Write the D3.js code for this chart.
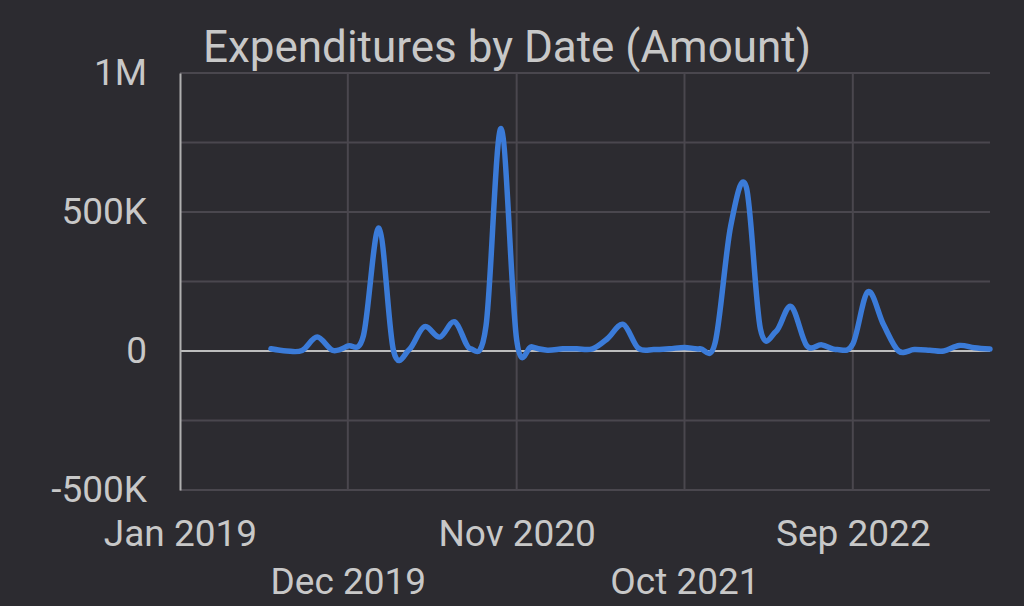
<!DOCTYPE html>
<html>
<head>
<meta charset="utf-8">
<script src="https://cdn.jsdelivr.net/npm/d3@7"></script>
<style>
  html, body { margin: 0; padding: 0; background: #2c2b30; }
  svg { display: block; }
  text { font-family: Roboto, "Noto Sans", sans-serif; }
</style>
</head>
<body>
<div id="chart"></div>
<script>
// monthly totals, Jul 2019 .. Jun 2023
var months = [
  '2019-07', '2019-08', '2019-09', '2019-10', '2019-11', '2019-12',
  '2020-01', '2020-02', '2020-03', '2020-04', '2020-05', '2020-06',
  '2020-07', '2020-08', '2020-09', '2020-10', '2020-11', '2020-12',
  '2021-01', '2021-02', '2021-03', '2021-04', '2021-05', '2021-06',
  '2021-07', '2021-08', '2021-09', '2021-10', '2021-11', '2021-12',
  '2022-01', '2022-02', '2022-03', '2022-04', '2022-05', '2022-06',
  '2022-07', '2022-08', '2022-09', '2022-10', '2022-11', '2022-12',
  '2023-01', '2023-02', '2023-03', '2023-04', '2023-05', '2023-06'
];
var amounts = [
  8000, 0, 2000, 50000, 2000, 18000,
  55000, 442000, 0, 5000, 87000, 50000,
  105000, 8000, 90000, 800000, 40000, 15000,
  3000, 8000, 8000, 8000, 45000, 96000,
  10000, 5000, 8000, 13000, 8000, 30000,
  450000, 590000, 80000, 70000, 160000, 20000,
  22000, 5000, 25000, 213000, 95000, 0,
  5000, 3000, 0, 20000, 12000, 7000
];

var xTicks = ['2019-01', '2019-12', '2020-11', '2021-10', '2022-09'];
var xTickLabels = ['Jan 2019', 'Dec 2019', 'Nov 2020', 'Oct 2021', 'Sep 2022'];
var yTicks = [-500000, 0, 500000, 1000000];
var yTickLabels = ['-500K', '0', '500K', '1M'];
var yGrid = [-500000, -250000, 250000, 500000, 750000, 1000000];

var chartTitle = 'Expenditures by Date (Amount)';

var width = 1024;
var height = 606;
// plot box (window.top is read-only, so no "top" here)
var plotLeft = 180, plotRight = 990, plotTop = 73, plotBottom = 490;

var parseMonth = d3.timeParse('%Y-%m');

var data = months.map(function (m, i) {
  return { date: parseMonth(m), value: amounts[i] };
});

var x = d3.scaleTime()
  .domain([parseMonth('2019-01'), parseMonth('2023-06')])
  .range([plotLeft, plotRight]);

var y = d3.scaleLinear()
  .domain([-500000, 1000000])
  .range([plotBottom, plotTop]);

var svg = d3.select('#chart')
  .append('svg')
  .attr('width', width)
  .attr('height', height);

svg.append('rect')
  .attr('width', width)
  .attr('height', height)
  .attr('fill', '#2c2b30');

// horizontal grid
svg.append('g')
  .selectAll('line')
  .data(yGrid)
  .enter().append('line')
  .attr('x1', plotLeft)
  .attr('x2', plotRight)
  .attr('y1', function (d) { return y(d); })
  .attr('y2', function (d) { return y(d); })
  .attr('stroke', '#4a474e')
  .attr('stroke-width', 2);

// vertical grid
svg.append('g')
  .selectAll('line')
  .data(xTicks.slice(1))
  .enter().append('line')
  .attr('x1', function (d) { return x(parseMonth(d)); })
  .attr('x2', function (d) { return x(parseMonth(d)); })
  .attr('y1', plotTop)
  .attr('y2', plotBottom)
  .attr('stroke', '#4a474e')
  .attr('stroke-width', 2);

// zero line
svg.append('line')
  .attr('x1', plotLeft)
  .attr('x2', plotRight)
  .attr('y1', y(0))
  .attr('y2', y(0))
  .attr('stroke', '#bdbdbd')
  .attr('stroke-width', 2);

// y axis
var yAxis = d3.axisLeft(y)
  .tickValues(yTicks)
  .tickSize(0)
  .tickPadding(33)
  .tickFormat(function (d, i) { return yTickLabels[i]; });

var gy = svg.append('g')
  .attr('transform', 'translate(' + plotLeft + ',0)')
  .call(yAxis);
gy.select('.domain')
  .attr('stroke', '#b0b0b0')
  .attr('stroke-width', 2);
gy.selectAll('text')
  .attr('fill', '#c8c8c8')
  .style('font-size', '37px')
  .style('font-family', 'Roboto');

// x axis, labels alternate between two rows
var xAxis = d3.axisBottom(x)
  .tickValues(xTicks.map(parseMonth))
  .tickSize(0)
  .tickFormat(function (d, i) { return xTickLabels[i]; });

var gx = svg.append('g')
  .attr('transform', 'translate(0,' + plotBottom + ')')
  .call(xAxis);
gx.select('.domain').remove();
gx.selectAll('text')
  .attr('fill', '#c8c8c8')
  .attr('dy', null)
  .attr('y', function (d, i) { return i % 2 === 0 ? 56 : 104; })
  .style('font-size', '37px')
  .style('font-family', 'Roboto');

// the series
var line = d3.line()
  .x(function (d) { return x(d.date); })
  .y(function (d) { return y(d.value); })
  .curve(d3.curveCardinal.tension(0));

svg.append('path')
  .datum(data)
  .attr('fill', 'none')
  .attr('stroke', '#3b7bd8')
  .attr('stroke-width', 5.5)
  .attr('stroke-linejoin', 'round')
  .attr('stroke-linecap', 'round')
  .attr('d', line);

// title
svg.append('text')
  .attr('x', 507)
  .attr('y', 62)
  .attr('text-anchor', 'middle')
  .attr('fill', '#c8c8c8')
  .style('font-size', '44px')
  .style('font-family', 'Roboto')
  .text(chartTitle);
</script>
</body>
</html>
